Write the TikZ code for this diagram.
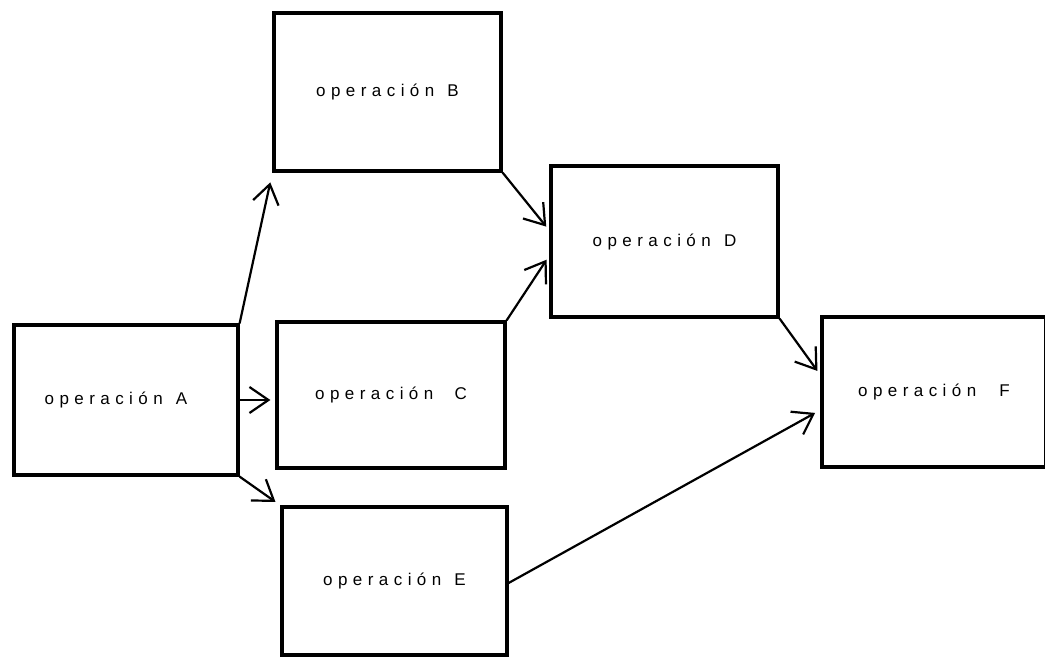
\documentclass[tikz,border=0pt]{standalone}
\usepackage{fontspec}
\setsansfont{Liberation Sans}[LetterSpace=32]
\usetikzlibrary{arrows.meta}

\tikzset{
	basic/.style  = {draw, rectangle, line width=3.2pt, inner sep=0pt,
		font=\sffamily\fontsize{17}{20}\selectfont},
	operation/.style = {basic, minimum width=224pt, minimum height=150pt,
		align=center},
	link/.style = {-{Straight Barb[length=19pt, width=26pt, line width=2.2pt]},
		line width=2.2pt}
}

\begin{document}
\begin{tikzpicture}[x=1pt, y=-1pt]
\useasboundingbox (0,0) rectangle (1045,657);
\clip (0,0) rectangle (1045,657);

% the operations
\node[operation] (a) at (126,400) {operación\hspace{3pt} A\hspace{20pt}};
\node[operation, minimum width=227pt, minimum height=158pt] (b) at (387.5,92) {operación\hspace{3pt} B};
\node[operation, minimum width=228pt, minimum height=146pt] (c) at (391,395) {operación\hspace{11pt} C};
\node[operation, minimum width=227pt, minimum height=151pt] (d) at (664.5,241.5) {operación\hspace{3pt} D};
\node[operation, minimum width=225pt, minimum height=148pt] (e) at (394.5,581) {operación\hspace{3pt} E};
\node[operation] (f) at (934,392) {operación\hspace{13pt} F};

% precedence between the operations
\draw[link, shorten >=10pt] (a.north east) -- (b.south west);
\draw[link, shorten >=5pt] (a.east) -- (c.west |- a.east);
\draw[link, shorten >=6pt] (a.south east) -- (e.north west);
\draw[link, shorten >=5pt] (b.south east) -- ([yshift=11pt]d.west);
\draw[link, shorten >=5pt] (c.north east) -- ([yshift=-14pt]d.west);
\draw[link, shorten >=5pt] (d.south east) -- ([yshift=17pt]f.west);
\draw[link, shorten >=6pt] ([yshift=-2pt]e.east) -- ([yshift=-18pt]f.west);

\end{tikzpicture}
\end{document}
